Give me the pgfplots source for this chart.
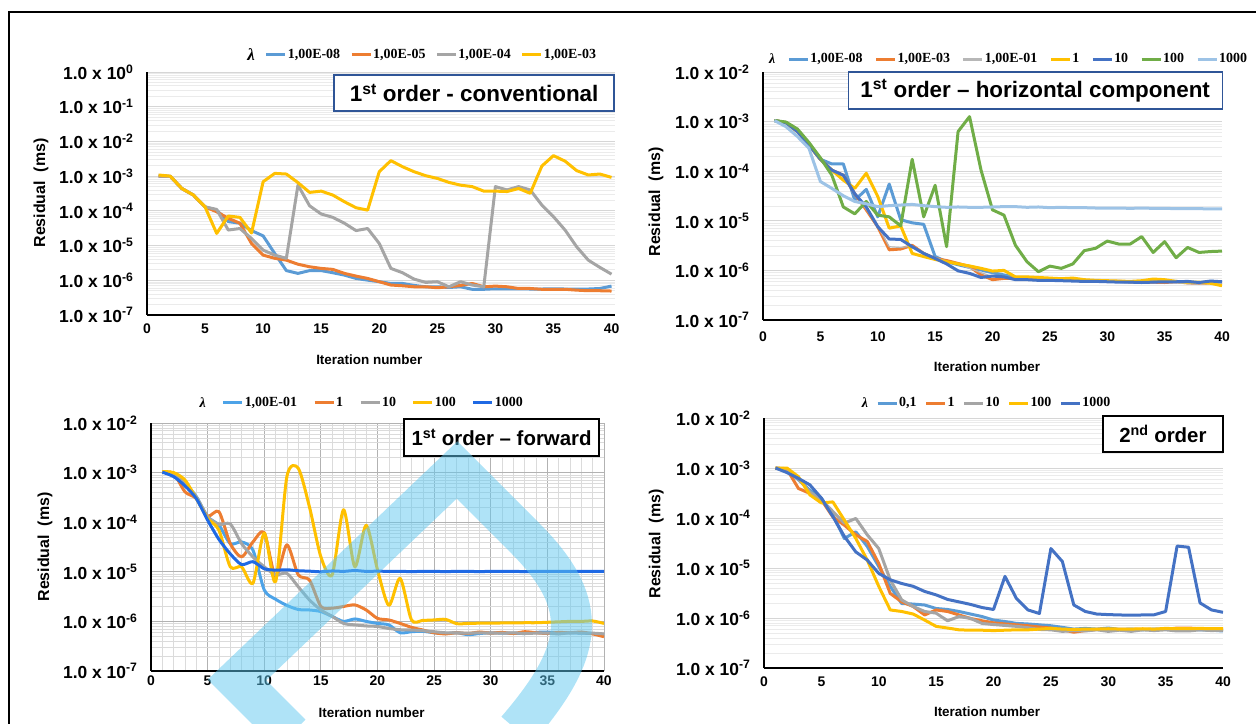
\documentclass[border=0pt]{standalone}
\usepackage{fontspec}
\setmainfont{Liberation Sans}
\newfontfamily\legfont{Liberation Serif}
\usepackage{pgfplots}
\usepackage{pgfplotstable}
\pgfplotsset{compat=1.18}

\definecolor{xblue}{RGB}{91,155,213}
\definecolor{xorange}{RGB}{237,125,49}
\definecolor{xgray}{RGB}{165,165,165}
\definecolor{xgold}{RGB}{255,192,0}
\definecolor{xdblue}{RGB}{68,114,196}
\definecolor{xgreen}{RGB}{112,173,71}
\definecolor{xlblue}{RGB}{157,195,230}
\definecolor{fblue}{RGB}{77,163,232}
\definecolor{fdblue}{RGB}{31,105,228}
\definecolor{boxblue}{RGB}{47,85,151}
\definecolor{wm}{RGB}{95,200,240}

% Panel 1: 1st order - conventional
\pgfplotstableread{
x b o g y
1 1.0e-3 1.0e-3 1.0e-3 1.08e-3
2 9.9e-4 9.9e-4 9.9e-4 1.0e-3
3 4.4e-4 4.4e-4 4.4e-4 4.4e-4
4 2.85e-4 2.85e-4 2.85e-4 2.85e-4
5 1.3e-4 1.3e-4 1.3e-4 1.3e-4
6 1.05e-4 9.4e-5 1.1e-4 2.24e-5
7 4.9e-5 6.1e-5 2.8e-5 7.1e-5
8 4.4e-5 4.4e-5 3.1e-5 6.5e-5
9 2.7e-5 1.15e-5 1.6e-5 2.3e-5
10 1.9e-5 5.3e-6 7.4e-6 6.9e-4
11 5.9e-6 4.3e-6 5.3e-6 1.2e-3
12 1.9e-6 3.8e-6 4.3e-6 1.15e-3
13 1.58e-6 2.9e-6 5.5e-4 6.5e-4
14 1.9e-6 2.45e-6 1.4e-4 3.4e-4
15 1.9e-6 2.2e-6 8.1e-5 3.7e-4
16 1.65e-6 2.06e-6 6.5e-5 2.85e-4
17 1.41e-6 1.58e-6 4.4e-5 1.83e-4
18 1.13e-6 1.32e-6 2.7e-5 1.23e-4
19 1.01e-6 1.13e-6 3.1e-5 1.05e-4
20 9.1e-7 9.1e-7 1.15e-5 1.34e-3
21 8.1e-7 7.3e-7 2.2e-6 2.8e-3
22 8.1e-7 6.95e-7 1.65e-6 1.87e-3
23 7.1e-7 6.5e-7 1.08e-6 1.34e-3
24 6.5e-7 6.5e-7 8.7e-7 1.03e-3
25 6.5e-7 6.1e-7 9.1e-7 8.6e-4
26 6.2e-7 6.5e-7 6.5e-7 6.6e-4
27 6.5e-7 7.1e-7 9.1e-7 5.5e-4
28 5.5e-7 8.1e-7 7.3e-7 5.0e-4
29 5.5e-7 6.5e-7 6.5e-7 3.7e-4
30 5.7e-7 6.8e-7 5.0e-4 3.7e-4
31 5.7e-7 6.5e-7 4.0e-4 3.6e-4
32 5.7e-7 5.8e-7 5.0e-4 4.4e-4
33 5.6e-7 5.8e-7 4.0e-4 3.2e-4
34 5.6e-7 5.5e-7 1.47e-4 1.95e-3
35 5.7e-7 5.5e-7 6.8e-5 3.9e-3
36 5.6e-7 5.5e-7 2.8e-5 2.7e-3
37 5.6e-7 5.2e-7 9.2e-6 1.44e-3
38 5.6e-7 5.0e-7 3.8e-6 1.08e-3
39 5.8e-7 5.0e-7 2.35e-6 1.15e-3
40 6.8e-7 4.9e-7 1.5e-6 9.2e-4
}\tA

% Panel 2: 1st order - horizontal component
\pgfplotstableread{
x b o g y d gr lb
1 1.05e-3 1.05e-3 1.05e-3 1.05e-3 1.05e-3 1.05e-3 1.05e-3
2 9.5e-4 9.5e-4 9.5e-4 9.5e-4 9.5e-4 9.8e-4 7.9e-4
3 6.3e-4 6.3e-4 6.3e-4 6.3e-4 6.3e-4 7.1e-4 5.0e-4
4 3.4e-4 3.4e-4 3.4e-4 3.4e-4 3.4e-4 3.8e-4 2.9e-4
5 1.74e-4 1.74e-4 1.74e-4 1.74e-4 1.74e-4 1.86e-4 6.2e-5
6 1.4e-4 1.05e-4 1.05e-4 1.05e-4 1.05e-4 8.3e-5 4.5e-5
7 1.4e-4 8.3e-5 8.5e-5 6.6e-5 8.3e-5 1.9e-5 3.2e-5
8 2.6e-5 3.5e-5 3.6e-5 4.5e-5 3.5e-5 1.38e-5 2.45e-5
9 4.3e-5 1.66e-5 1.7e-5 9.1e-5 1.9e-5 2.45e-5 2.2e-5
10 1.2e-5 7.6e-6 7.8e-6 3.1e-5 7.6e-6 1.3e-5 1.93e-5
11 5.5e-5 2.6e-6 3.0e-6 7.1e-6 4.3e-6 1.2e-5 2.02e-5
12 1.05e-5 2.7e-6 2.9e-6 7.9e-6 4.2e-6 7.9e-6 2.08e-5
13 9.1e-6 3.2e-6 3.1e-6 2.2e-6 3.0e-6 1.74e-4 2.14e-5
14 8.5e-6 2.2e-6 2.3e-6 1.9e-6 2.2e-6 1.2e-5 2.02e-5
15 1.9e-6 1.74e-6 1.8e-6 1.66e-6 1.74e-6 5.2e-5 1.93e-5
16 1.5e-6 1.58e-6 1.55e-6 1.5e-6 1.35e-6 3.0e-6 1.87e-5
17 1.3e-6 1.38e-6 1.35e-6 1.35e-6 9.8e-7 6.3e-4 1.9e-5
18 1.15e-6 1.2e-6 1.1e-6 1.23e-6 8.7e-7 1.26e-3 1.87e-5
19 1.02e-6 8.1e-7 9.0e-7 1.1e-6 7.2e-7 1.05e-4 1.87e-5
20 9.0e-7 6.5e-7 7.5e-7 9.7e-7 7.7e-7 1.66e-5 1.9e-5
21 8.1e-7 6.9e-7 7.2e-7 1.0e-6 7.4e-7 1.3e-5 1.93e-5
22 7.2e-7 7.0e-7 6.8e-7 7.4e-7 6.5e-7 3.2e-6 1.93e-5
23 7.0e-7 6.8e-7 6.7e-7 7.4e-7 6.5e-7 1.5e-6 1.87e-5
24 6.8e-7 6.6e-7 6.5e-7 7.2e-7 6.3e-7 9.4e-7 1.9e-5
25 6.6e-7 6.5e-7 6.4e-7 7.0e-7 6.3e-7 1.22e-6 1.84e-5
26 6.5e-7 6.6e-7 6.3e-7 6.8e-7 6.2e-7 1.1e-6 1.87e-5
27 6.4e-7 6.3e-7 6.2e-7 7.0e-7 6.1e-7 1.35e-6 1.84e-5
28 6.0e-7 6.2e-7 6.1e-7 6.5e-7 6.0e-7 2.5e-6 1.84e-5
29 6.0e-7 6.1e-7 6.0e-7 6.3e-7 6.0e-7 2.8e-6 1.81e-5
30 6.0e-7 6.0e-7 6.0e-7 6.2e-7 5.9e-7 3.9e-6 1.81e-5
31 6.0e-7 6.0e-7 5.9e-7 6.1e-7 5.8e-7 3.4e-6 1.81e-5
32 5.8e-7 5.9e-7 5.8e-7 6.0e-7 5.8e-7 3.4e-6 1.78e-5
33 5.8e-7 5.8e-7 5.8e-7 6.2e-7 5.7e-7 4.8e-6 1.81e-5
34 5.9e-7 5.8e-7 5.7e-7 6.7e-7 5.8e-7 2.3e-6 1.78e-5
35 6.0e-7 5.7e-7 5.7e-7 6.5e-7 5.9e-7 3.8e-6 1.78e-5
36 6.0e-7 5.9e-7 5.6e-7 6.0e-7 5.9e-7 1.8e-6 1.76e-5
37 5.7e-7 5.6e-7 5.4e-7 5.8e-7 6.0e-7 2.9e-6 1.76e-5
38 5.6e-7 5.5e-7 5.3e-7 5.8e-7 5.7e-7 2.3e-6 1.76e-5
39 6.0e-7 5.6e-7 5.5e-7 5.5e-7 6.1e-7 2.4e-6 1.73e-5
40 5.9e-7 5.5e-7 5.4e-7 4.9e-7 5.9e-7 2.45e-6 1.73e-5
}\tB

% Panel 3: 1st order - forward
\pgfplotstableread{
x lb o g y d
1 1.02e-3 1.02e-3 1.02e-3 1.05e-3 1.02e-3
2 9.0e-4 9.6e-4 9.6e-4 1.0e-3 8.3e-4
3 6.0e-4 4.1e-4 6.0e-4 7.1e-4 5.4e-4
4 3.3e-4 3.0e-4 3.2e-4 3.0e-4 3.0e-4
5 1.29e-4 1.33e-4 1.3e-4 1.2e-4 1.1e-4
6 8.7e-5 1.63e-4 9.0e-5 6.9e-5 4.5e-5
7 3.7e-5 3.7e-5 9.2e-5 1.26e-5 2.3e-5
8 4.0e-5 2.0e-5 3.7e-5 1.26e-5 1.4e-5
9 2.75e-5 4.0e-5 2.0e-5 5.9e-6 1.6e-5
10 4.3e-6 6.2e-5 1.26e-5 6.0e-5 1.15e-5
11 2.8e-6 7.9e-6 8.7e-6 6.3e-6 1.08e-5
12 2.1e-6 3.5e-5 9.3e-6 8.3e-4 1.1e-5
13 1.74e-6 8.7e-6 5.0e-6 1.23e-3 1.05e-5
14 1.7e-6 6.8e-6 2.7e-6 2.0e-4 1.03e-5
15 1.58e-6 2.0e-6 1.7e-6 2.0e-5 1.0e-5
16 1.26e-6 1.85e-6 1.26e-6 8.7e-6 1.04e-5
17 1.0e-6 2.0e-6 9.1e-7 1.78e-4 1.02e-5
18 1.12e-6 2.15e-6 8.5e-7 1.26e-5 1.06e-5
19 1.0e-6 1.7e-6 8.1e-7 8.7e-5 1.02e-5
20 9.1e-7 1.15e-6 7.9e-7 1.1e-5 1.03e-5
21 8.5e-7 1.07e-6 7.2e-7 2.1e-6 1.02e-5
22 5.9e-7 9.1e-7 6.8e-7 7.4e-6 1.02e-5
23 6.2e-7 7.6e-7 6.7e-7 1.07e-6 1.01e-5
24 6.3e-7 6.7e-7 6.5e-7 1.05e-6 1.02e-5
25 5.9e-7 5.9e-7 6.2e-7 1.07e-6 1.02e-5
26 5.7e-7 5.6e-7 5.9e-7 1.1e-6 1.01e-5
27 5.9e-7 5.9e-7 5.9e-7 9.0e-7 1.02e-5
28 5.4e-7 5.7e-7 5.8e-7 9.1e-7 1.02e-5
29 5.7e-7 6.1e-7 5.9e-7 9.2e-7 1.01e-5
30 5.9e-7 5.8e-7 5.8e-7 9.2e-7 1.02e-5
31 5.8e-7 6.0e-7 5.8e-7 9.3e-7 1.02e-5
32 5.8e-7 5.7e-7 5.9e-7 9.3e-7 1.02e-5
33 5.7e-7 6.2e-7 5.7e-7 9.4e-7 1.01e-5
34 6.0e-7 5.9e-7 5.8e-7 9.4e-7 1.02e-5
35 6.1e-7 5.7e-7 5.8e-7 9.6e-7 1.02e-5
36 5.8e-7 6.0e-7 5.6e-7 9.8e-7 1.02e-5
37 5.9e-7 5.9e-7 5.9e-7 1.0e-6 1.02e-5
38 5.8e-7 6.1e-7 5.8e-7 1.0e-6 1.02e-5
39 5.7e-7 5.6e-7 5.8e-7 1.02e-6 1.02e-5
40 5.4e-7 4.9e-7 5.6e-7 9.1e-7 1.02e-5
}\tC

% Panel 4: 2nd order
\pgfplotstableread{
x lb o g y d
1 1.0e-3 1.0e-3 1.0e-3 1.0e-3 1.0e-3
2 9.0e-4 9.4e-4 9.7e-4 1.0e-3 8.1e-4
3 5.8e-4 3.9e-4 6.0e-4 6.7e-4 6.2e-4
4 3.6e-4 3.1e-4 3.3e-4 2.9e-4 4.6e-4
5 2.5e-4 2.3e-4 2.3e-4 2.0e-4 2.5e-4
6 1.15e-4 1.05e-4 1.35e-4 2.1e-4 1.07e-4
7 3.9e-5 7.2e-5 7.9e-5 9.1e-5 4.3e-5
8 5.3e-5 4.6e-5 9.8e-5 3.9e-5 2.1e-5
9 2.7e-5 3.4e-5 4.6e-5 1.44e-5 1.44e-5
10 1.07e-5 1.23e-5 2.45e-5 4.3e-6 7.8e-6
11 4.3e-6 3.1e-6 5.8e-6 1.45e-6 5.8e-6
12 1.95e-6 2.1e-6 2.3e-6 1.35e-6 4.9e-6
13 1.9e-6 1.7e-6 1.7e-6 1.2e-6 4.3e-6
14 1.82e-6 1.15e-6 1.35e-6 9.1e-7 3.4e-6
15 1.55e-6 1.45e-6 1.25e-6 6.8e-7 2.9e-6
16 1.48e-6 1.35e-6 8.8e-7 6.3e-7 2.35e-6
17 1.35e-6 1.15e-6 1.07e-6 5.8e-7 2.1e-6
18 1.2e-6 9.8e-7 9.8e-7 5.7e-7 1.87e-6
19 1.07e-6 8.8e-7 7.8e-7 5.7e-7 1.62e-6
20 9.1e-7 8.0e-7 7.4e-7 5.6e-7 1.48e-6
21 8.5e-7 7.6e-7 7.1e-7 5.7e-7 6.8e-6
22 7.8e-7 7.3e-7 6.8e-7 5.8e-7 2.45e-6
23 7.6e-7 7.0e-7 6.4e-7 5.8e-7 1.45e-6
24 7.3e-7 6.6e-7 5.9e-7 6.0e-7 1.23e-6
25 7.0e-7 6.3e-7 5.8e-7 6.2e-7 2.45e-5
26 6.5e-7 5.8e-7 5.4e-7 6.0e-7 1.35e-5
27 6.0e-7 5.2e-7 5.6e-7 5.9e-7 1.82e-6
28 6.2e-7 5.6e-7 5.5e-7 6.0e-7 1.35e-6
29 6.0e-7 5.9e-7 5.8e-7 6.0e-7 1.2e-6
30 6.3e-7 5.9e-7 5.4e-7 6.1e-7 1.17e-6
31 5.9e-7 5.9e-7 5.7e-7 6.0e-7 1.15e-6
32 6.0e-7 5.9e-7 5.4e-7 6.0e-7 1.14e-6
33 5.8e-7 5.9e-7 5.8e-7 6.1e-7 1.15e-6
34 6.0e-7 5.9e-7 5.6e-7 6.0e-7 1.16e-6
35 5.9e-7 5.9e-7 5.8e-7 6.2e-7 1.35e-6
36 6.0e-7 6.3e-7 5.5e-7 6.1e-7 2.75e-5
37 6.0e-7 6.3e-7 5.5e-7 6.1e-7 2.6e-5
38 5.8e-7 6.1e-7 5.8e-7 6.2e-7 2.0e-6
39 5.7e-7 5.9e-7 5.6e-7 6.1e-7 1.45e-6
40 5.5e-7 5.8e-7 5.7e-7 6.1e-7 1.3e-6
}\tD

\pgfplotsset{
 exc/.style={
  scale only axis, xmin=0, xmax=40,
  axis x line*=bottom, axis y line*=left,
  axis line style={black, line width=1.6bp},
  major tick length=0pt, minor tick length=0pt,
  xtick={0,5,10,15,20,25,30,35,40},
  xticklabel style={font=\bfseries\fontsize{14}{16}\selectfont},
  yticklabel style={font=\bfseries\fontsize{17.5}{19}\selectfont, xshift=-10bp},
  ymajorgrids, yminorgrids,
  major grid style={line width=0.9bp, draw=black!16},
  minor grid style={line width=0.7bp, draw=black!8},
  every axis plot/.append style={line width=3bp, line join=round},
  xlabel={Iteration number},
  ylabel={Residual\hspace{0.55em}(ms)},
  xlabel style={font=\bfseries\fontsize{13.5}{15}\selectfont, anchor=center},
  ylabel style={font=\bfseries\fontsize{16}{18}\selectfont, anchor=center},
  legend style={draw=none, fill=none, legend columns=-1, anchor=center,
    font=\legfont\bfseries\fontsize{14}{16}\selectfont,
    nodes={inner sep=1bp},
    /tikz/every even column/.append style={column sep=9bp}},
  legend image code/.code={\draw[line width=3bp,##1] (0bp,0bp) -- (19bp,0bp);},
  clip mode=individual,
 },
 ysmall/.style={
  ymin=1e-7, ymax=1e-2,
  ytick={1e-7,1e-6,1e-5,1e-4,1e-3,1e-2},
  yticklabels={1.0 x 10\textsuperscript{-7},1.0 x 10\textsuperscript{-6},1.0 x 10\textsuperscript{-5},1.0 x 10\textsuperscript{-4},1.0 x 10\textsuperscript{-3},1.0 x 10\textsuperscript{-2}},
  minor ytick={2e-7,3e-7,4e-7,5e-7,6e-7,7e-7,8e-7,9e-7,2e-6,3e-6,4e-6,5e-6,6e-6,7e-6,8e-6,9e-6,2e-5,3e-5,4e-5,5e-5,6e-5,7e-5,8e-5,9e-5,2e-4,3e-4,4e-4,5e-4,6e-4,7e-4,8e-4,9e-4,2e-3,3e-3,4e-3,5e-3,6e-3,7e-3,8e-3,9e-3},
 },
}

\begin{document}
\begin{tikzpicture}
\path[use as bounding box] (0bp,0bp) rectangle (1256bp,724bp);

% ---------------- Panel 1 ----------------
\begin{axis}[ymode=log, exc, /pgf/number format/assume math mode=true,
  at={(147bp,409bp)}, anchor=south west, width=468bp, height=243bp,
  xmax=40.3, ymin=1e-7, ymax=1,
  ytick={1e-7,1e-6,1e-5,1e-4,1e-3,1e-2,1e-1,1},
  yticklabels={1.0 x 10\textsuperscript{-7},1.0 x 10\textsuperscript{-6},1.0 x 10\textsuperscript{-5},1.0 x 10\textsuperscript{-4},1.0 x 10\textsuperscript{-3},1.0 x 10\textsuperscript{-2},1.0 x 10\textsuperscript{-1},1.0 x 10\textsuperscript{0}},
  minor ytick={2e-7,3e-7,4e-7,5e-7,6e-7,7e-7,8e-7,9e-7,2e-6,3e-6,4e-6,5e-6,6e-6,7e-6,8e-6,9e-6,2e-5,3e-5,4e-5,5e-5,6e-5,7e-5,8e-5,9e-5,2e-4,3e-4,4e-4,5e-4,6e-4,7e-4,8e-4,9e-4,2e-3,3e-3,4e-3,5e-3,6e-3,7e-3,8e-3,9e-3,2e-2,3e-2,4e-2,5e-2,6e-2,7e-2,8e-2,9e-2,2e-1,3e-1,4e-1,5e-1,6e-1,7e-1,8e-1,9e-1},
  xticklabel style={yshift=-5bp},
  xlabel style={at={(axis description cs:0.475,-0.185)}},
  ylabel style={at={(axis description cs:-0.2265,0.502)}},
  legend style={at={(axis description cs:0.587,1.07)}},
]
\addlegendimage{empty legend}\addlegendentry{\fontsize{17}{18}\selectfont\textit{λ}\hspace{12bp}}
\addplot[xblue] table[x=x,y=b]{\tA}; \addlegendentry{1,00E-08}
\addplot[xorange] table[x=x,y=o]{\tA}; \addlegendentry{1,00E-05}
\addplot[xgray] table[x=x,y=g]{\tA}; \addlegendentry{1,00E-04}
\addplot[xgold] table[x=x,y=y]{\tA}; \addlegendentry{1,00E-03}
\node[draw=boxblue, line width=1.3bp, fill=white, minimum width=280bp, minimum height=36bp, inner sep=0pt,
  font=\bfseries\fontsize{22.5}{26}\selectfont] at (axis description cs:0.699,0.9136) {1\textsuperscript{st} order - conventional};
\end{axis}

% ---------------- Panel 2 ----------------
\begin{axis}[ymode=log, exc, ysmall, /pgf/number format/assume math mode=true,
  at={(763bp,404bp)}, anchor=south west, width=459bp, height=248bp,
  xticklabel style={yshift=-8bp},
  xlabel style={at={(axis description cs:0.488,-0.19)}},
  ylabel style={at={(axis description cs:-0.233,0.476)}},
  legend style={at={(axis description cs:0.534,1.052)}, /tikz/every even column/.append style={column sep=11bp}},
]
\addlegendimage{empty legend}\addlegendentry{\textit{λ}\hspace{6bp}}
\addplot[xblue] table[x=x,y=b]{\tB}; \addlegendentry{1,00E-08}
\addplot[xorange] table[x=x,y=o]{\tB}; \addlegendentry{1,00E-03}
\addplot[xgray!80, line width=1.2bp] table[x=x,y=g]{\tB}; \addlegendentry{1,00E-01}
\addplot[xgold] table[x=x,y=y]{\tB}; \addlegendentry{1}
\addplot[xdblue] table[x=x,y=d]{\tB}; \addlegendentry{10}
\addplot[xgreen] table[x=x,y=gr]{\tB}; \addlegendentry{100}
\addplot[xlblue] table[x=x,y=lb]{\tB}; \addlegendentry{1000}
\node[draw=boxblue, line width=1.3bp, fill=white, minimum width=374bp, minimum height=37bp, inner sep=0pt,
  font=\bfseries\fontsize{22.5}{26}\selectfont] at (axis description cs:0.593,0.925) {1\textsuperscript{st} order -- horizontal component};
\end{axis}

% ---------------- Panel 3 ----------------
\begin{axis}[ymode=log, exc, ysmall, /pgf/number format/assume math mode=true,
  at={(151bp,53bp)}, anchor=south west, width=453bp, height=248bp,
  xmajorgrids, xminorgrids, minor x tick num=4,
  major grid style={line width=0.9bp, draw=black!30},
  minor grid style={line width=0.6bp, draw=black!14},
  xticklabel style={yshift=-1bp},
  xlabel style={at={(axis description cs:0.487,-0.169)}},
  ylabel style={at={(axis description cs:-0.234,0.5)}},
  legend style={at={(axis description cs:0.464,1.081)}, /tikz/every even column/.append style={column sep=15bp}},
]
\addlegendimage{empty legend}\addlegendentry{\textit{λ}\hspace{30bp}}
\addplot[fblue, smooth, tension=0.45] table[x=x,y=lb]{\tC}; \addlegendentry{1,00E-01}
\addplot[xorange, smooth, tension=0.45] table[x=x,y=o]{\tC}; \addlegendentry{1}
\addplot[xgray, smooth, tension=0.45] table[x=x,y=g]{\tC}; \addlegendentry{10}
\addplot[xgold, smooth, tension=0.45] table[x=x,y=y]{\tC}; \addlegendentry{100}
\addplot[fdblue, smooth, tension=0.45] table[x=x,y=d]{\tC}; \addlegendentry{1000}
\node[draw=black, line width=1.3bp, fill=white, minimum width=195bp, minimum height=37bp, inner sep=0pt,
  font=\bfseries\fontsize{20.5}{24}\selectfont] at (axis description cs:0.774,0.9415) {1\textsuperscript{st} order -- forward};
\end{axis}

% ---------------- Panel 4 ----------------
\begin{axis}[ymode=log, exc, ysmall, /pgf/number format/assume math mode=true,
  at={(764bp,56bp)}, anchor=south west, width=459bp, height=250bp,
  xticklabel style={yshift=-5bp},
  xlabel style={at={(axis description cs:0.486,-0.176)}},
  ylabel style={at={(axis description cs:-0.235,0.496)}},
  legend style={at={(axis description cs:0.484,1.06)}, /tikz/every even column/.append style={column sep=7bp}},
]
\addlegendimage{empty legend}\addlegendentry{\textit{λ}\hspace{14bp}}
\addplot[xblue] table[x=x,y=lb]{\tD}; \addlegendentry{0,1}
\addplot[xorange] table[x=x,y=o]{\tD}; \addlegendentry{1}
\addplot[xgray] table[x=x,y=g]{\tD}; \addlegendentry{10}
\addplot[xgold] table[x=x,y=y]{\tD}; \addlegendentry{100}
\addplot[xdblue] table[x=x,y=d]{\tD}; \addlegendentry{1000}
\node[draw=black, line width=1.3bp, fill=white, minimum width=120bp, minimum height=36bp, inner sep=0pt,
  font=\bfseries\fontsize{20.5}{24}\selectfont] at (axis description cs:0.869,0.936) {2\textsuperscript{nd} order};
\end{axis}

% outer frame
\draw[line width=2bp, black] (9.3bp,0bp) -- (9.3bp,711.5bp) -- (1256bp,711.5bp);

% watermark over the lower-left panel
\draw[line width=41bp, draw=wm, draw opacity=0.5, line join=miter, miter limit=10]
  (291bp,-10bp) -- (237bp,44bp) -- (457bp,254bp) -- (525bp,186bp)
  .. controls (592bp,119bp) and (584bp,72bp) .. (517bp,-6bp);
\end{tikzpicture}
\end{document}
